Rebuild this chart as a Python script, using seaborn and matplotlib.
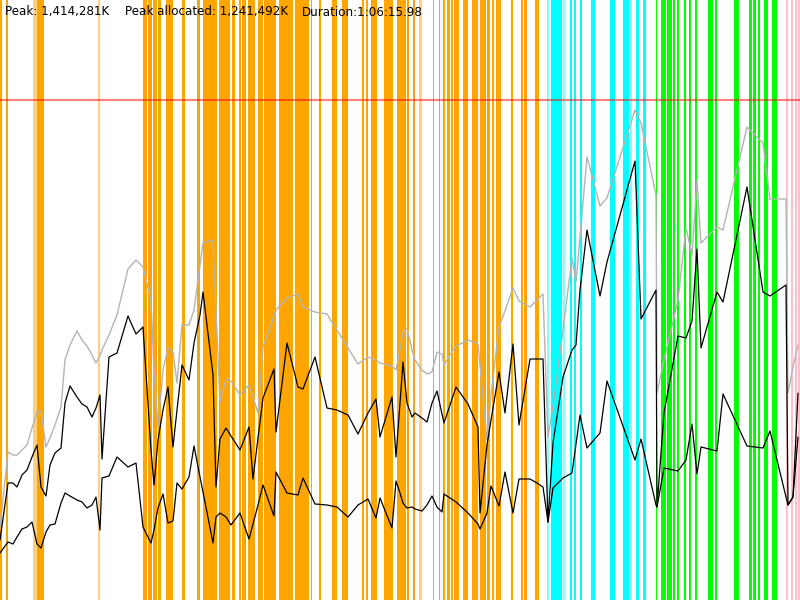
import matplotlib
matplotlib.use("Agg")
import matplotlib.pyplot as plt
import pandas as pd
import seaborn as sns

# sample times (chart time units, 0..800 over the whole 1:06:15.98 run)
times = [0, 8, 13, 17, 22, 27, 32, 37, 41, 46, 50, 55, 61, 65, 70, 77, 82, 87, 92, 96,
         100, 102, 109, 117, 128, 136, 143, 151, 154, 158, 163, 168, 173, 177, 182, 189, 194,
         200, 203, 213, 216, 220, 226, 231, 240, 249, 253, 258, 263, 274, 276, 287, 298,
         303, 315, 327, 337, 348, 358, 368, 376, 380, 392, 396, 400, 403, 407, 412, 415,
         422, 427, 432, 437, 442, 444, 450, 456, 468, 478, 480, 487, 491, 499, 505, 513,
         519, 530, 537, 543, 548, 553, 563, 572, 576, 580, 587, 600, 607, 635, 641, 656,
         657, 664, 678, 686, 692, 697, 701, 717, 723, 747, 763, 770, 786, 788, 793, 798]

# heap sizes in chart units (peak line = 500)
heap_committed = [73, 148, 145, 145, 150, 155, 172, 188, 189, 153, 162, 175, 193, 240, 255, 269, 260, 254, 245, 237,
                  244, 250, 265, 285, 331, 340, 333, 300, 230, 173, 230, 252, 248, 217, 275, 275, 290,
                  335, 357, 360, 290, 198, 221, 219, 205, 215, 203, 187, 253, 284, 290, 302, 306,
                  293, 288, 286, 270, 252, 236, 243, 240, 237, 234, 230, 250, 268, 272, 250, 240,
                  230, 226, 228, 248, 246, 235, 245, 254, 260, 256, 235, 160, 205, 273, 289, 312,
                  299, 293, 300, 306, 163, 194, 270, 342, 318, 363, 443, 394, 402, 490, 477, 405,
                  207, 240, 300, 372, 345, 420, 357, 373, 370, 473, 457, 401, 401, 207, 233, 255]
heap_used_peak = [60, 117, 117, 113, 125, 130, 143, 155, 113, 104, 135, 147, 152, 197, 214, 203, 196, 193, 183, 192,
                  205, 141, 243, 247, 284, 266, 273, 150, 115, 160, 190, 213, 153, 190, 235, 220, 257,
                  285, 308, 225, 113, 161, 172, 164, 150, 173, 121, 162, 202, 231, 168, 257, 213,
                  211, 243, 192, 190, 185, 166, 187, 201, 163, 203, 143, 197, 238, 197, 183, 187,
                  182, 178, 197, 209, 186, 177, 195, 213, 196, 173, 87, 155, 180, 228, 187, 256,
                  175, 241, 241, 241, 78, 157, 223, 250, 255, 310, 370, 304, 338, 439, 281, 310,
                  93, 187, 264, 262, 279, 351, 252, 308, 298, 413, 308, 304, 315, 95, 103, 207]
heap_used_after_gc = [47, 58, 56, 63, 71, 73, 78, 56, 52, 68, 75, 76, 97, 107, 104, 100, 98, 92, 95, 103,
                      70, 122, 124, 143, 133, 137, 73, 57, 70, 92, 106, 77, 79, 117, 111, 123, 154,
                      123, 108, 57, 83, 87, 83, 75, 87, 61, 76, 95, 115, 84, 128, 107, 105,
                      122, 96, 95, 93, 83, 95, 101, 82, 102, 72, 119, 107, 97, 92, 93, 91,
                      89, 95, 104, 93, 88, 106, 102, 98, 87, 76, 71, 87, 114, 94, 128, 87,
                      121, 121, 117, 113, 78, 112, 122, 127, 156, 185, 152, 167, 219, 140, 161, 95,
                      93, 132, 129, 140, 176, 126, 153, 149, 206, 154, 152, 169, 103, 95, 103, 163]

peak_level = 500

# GC events: start time and duration, by kind
young_starts = [0, 6, 37, 143, 148, 153, 158, 166, 182, 197, 203, 219, 232, 239, 242, 248, 258, 264,
                279, 295, 311, 319, 332, 342, 362, 366, 371, 384, 397, 407, 413, 433, 439, 443,
                447, 451, 454, 463, 472, 480, 487, 492, 496, 511, 521, 524, 535]
young_widths = [2, 1.5, 7, 4, 4, 4, 3, 7, 2.5, 3, 14, 11, 3, 1.5, 4, 7, 5, 12,
                14, 14, 1, 2, 5, 6, 2, 2, 6, 9, 9, 1.5, 2, 1, 1, 1.5,
                3, 2, 5, 5, 6, 6, 3, 2, 5, 2, 2, 3, 4]
young_faint_starts = [33, 98, 419]
young_faint_widths = [4, 1.5, 3]
mixed_starts = [551, 570, 574, 580, 591, 610, 623, 636, 643]
mixed_widths = [11, 2, 2, 2, 4, 5, 6, 3, 3]
mixed_faint_starts = [547, 563, 630]
mixed_faint_widths = [1.5, 2, 2]
full_starts = [656, 661, 667, 673, 677, 684, 689, 695, 708, 715, 734, 749, 753, 758, 764, 772]
full_widths = [1, 5, 5, 2, 1.5, 2, 2, 2, 5, 2, 5, 3, 3, 1.5, 4, 5]
remark_starts = [786, 791, 795, 798]
remark_widths = [1.5, 2, 2, 2]

summary = ["Peak: 1,414,281K", "Peak allocated: 1,241,492K", "Duration:1:06:15.98"]

sns.set_style("white")
plt.rcParams["font.family"] = ["DejaVu Sans"]

fig = plt.figure(figsize=(8, 6), dpi=100)
ax = fig.add_axes([0, 0, 1, 1])
ax.set_xlim(0, 800)
ax.set_ylim(0, 600)

# GC event bands
bands = [(young_starts, young_widths, "#ffa500", 1.0),
         (young_faint_starts, young_faint_widths, "#ffa500", 0.5),
         (mixed_starts, mixed_widths, "#00ffff", 1.0),
         (mixed_faint_starts, mixed_faint_widths, "#00ffff", 0.5),
         (full_starts, full_widths, "#00ff00", 1.0),
         (remark_starts, remark_widths, "#ffc0cb", 1.0)]
for starts, widths, colour, alpha in bands:
    ax.bar(starts, 600, width=widths, align="edge", color=colour, alpha=alpha, linewidth=0)

heap = pd.DataFrame({"time": times,
                     "committed": heap_committed,
                     "used": heap_used_peak,
                     "after_gc": heap_used_after_gc})

sns.lineplot(data=heap, x="time", y="committed", sort=False, estimator=None,
             color="#b4b4b4", linewidth=1.0, ax=ax)
sns.lineplot(data=heap, x="time", y="used", sort=False, estimator=None,
             color="black", linewidth=0.9, ax=ax)
sns.lineplot(data=heap, x="time", y="after_gc", sort=False, estimator=None,
             color="black", linewidth=0.9, ax=ax)

ax.axhline(peak_level, color="red", alpha=0.5, linewidth=1.5)

for xpos, label in zip([5, 125, 302], summary):
    ax.text(xpos, 588, label, fontsize=8.6, va="center", ha="left", color="black")

ax.set_axis_off()
fig.savefig("out.png", dpi=100)
